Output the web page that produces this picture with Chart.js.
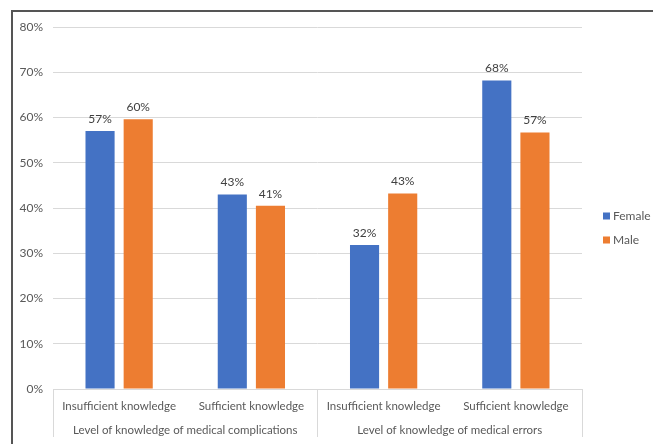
<!DOCTYPE html>
<html>
<head>
<meta charset="utf-8">
<script src="https://cdn.jsdelivr.net/npm/chart.js@4"></script>
<style>
  html, body { margin: 0; padding: 0; background: #fff; }
  #frame {
    position: absolute; left: 11px; top: 10px;
    width: 642px; height: 434px;
    border-left: 2px solid #555; border-top: 2px solid #555;
  }
</style>
</head>
<body>
<div id="frame"><canvas id="chart"></canvas></div>
<script>
const categories = ["Insufficient knowledge", "Sufficient knowledge", "Insufficient knowledge", "Sufficient knowledge"];
const groups = ["Level of knowledge of medical complications", "Level of knowledge of medical errors"];
const seriesNames = ["Female", "Male"];
const female = [57.0, 43.0, 31.8, 68.2];
const male = [59.6, 40.5, 43.2, 56.7];
const seriesColors = ["#4472C4", "#ED7D31"];

const textColor = "#595959";
const gridColor = "#d9d9d9";
const fontFamily = "Lato, 'Liberation Sans', sans-serif";
Chart.defaults.font.family = fontFamily;
Chart.defaults.font.size = 12;
Chart.defaults.color = textColor;

// value labels above each bar
const barLabels = {
  id: "barLabels",
  afterDatasetsDraw(chart) {
    const ctx = chart.ctx;
    ctx.save();
    ctx.font = "12px " + fontFamily;
    ctx.fillStyle = "#404040";
    ctx.textAlign = "center";
    ctx.textBaseline = "bottom";
    chart.data.datasets.forEach((ds, i) => {
      chart.getDatasetMeta(i).data.forEach((bar, j) => {
        ctx.fillText(Math.round(ds.data[j]) + "%", bar.x, bar.y - 6);
      });
    });
    ctx.restore();
  }
};

// legend on the right, centred vertically like the Excel one
const sideLegend = {
  id: "sideLegend",
  afterDraw(chart) {
    const ctx = chart.ctx;
    const x = chart.chartArea.right + 21;
    const mid = chart.height / 2;
    ctx.save();
    ctx.font = "12px " + fontFamily;
    ctx.textBaseline = "middle";
    chart.data.datasets.forEach((ds, i) => {
      const y = mid - 13 + i * 24;
      ctx.fillStyle = ds.backgroundColor;
      ctx.fillRect(x, y - 3.5, 7, 7);
      ctx.fillStyle = textColor;
      ctx.fillText(ds.label, x + 10, y);
    });
    ctx.restore();
  }
};

function fixAxis(h) {
  return function (s) {
    s.height = h;
    s.paddingLeft = 0;
    s.paddingRight = 0;
  };
}

new Chart(document.getElementById("chart"), {
  type: "bar",
  data: {
    labels: categories,
    datasets: [
      { label: seriesNames[0], data: female, backgroundColor: seriesColors[0] },
      { label: seriesNames[1], data: male, backgroundColor: seriesColors[1] }
    ]
  },
  options: {
    responsive: true,
    maintainAspectRatio: false,
    animation: false,
    categoryPercentage: 0.577,
    barPercentage: 0.763,
    layout: { padding: { top: 15, right: 73, bottom: 9, left: 0 } },
    plugins: { legend: { display: false }, tooltip: { enabled: false } },
    scales: {
      y: {
        min: 0, max: 80,
        ticks: { stepSize: 10, padding: 10, callback: (v) => v + "%" },
        grid: { color: gridColor, drawTicks: false },
        border: { display: false },
        afterFit(s) {
          s.width = 40;
          s.paddingTop = 0;
          s.paddingBottom = 0;
        }
      },
      x: {
        offset: true,
        ticks: { padding: -14, maxRotation: 0, minRotation: 0, autoSkip: false, font: { size: 11.5 } },
        grid: {
          offset: true,
          drawOnChartArea: false,
          tickLength: 24,
          color: (c) => (c.index === undefined || c.index % 2 === 0) ? gridColor : "transparent"
        },
        border: { display: true, color: gridColor },
        afterFit: fixAxis(24)
      },
      x2: {
        type: "category",
        position: "bottom",
        labels: groups,
        offset: true,
        ticks: { padding: -14, maxRotation: 0, minRotation: 0, autoSkip: false, font: { size: 11.5 } },
        grid: { offset: true, drawOnChartArea: false, tickLength: 24, color: gridColor },
        border: { display: false },
        afterFit: fixAxis(24)
      }
    }
  },
  plugins: [barLabels, sideLegend]
});
</script>
</body>
</html>
